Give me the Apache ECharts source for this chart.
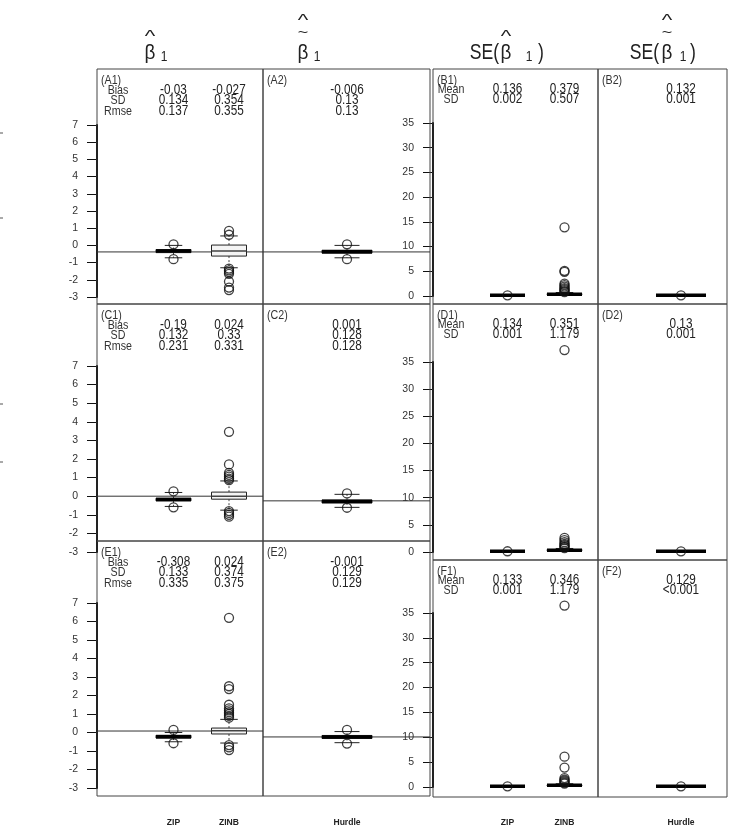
<!DOCTYPE html>
<html><head><meta charset="utf-8">
<script src="https://cdn.jsdelivr.net/npm/echarts@6/dist/echarts.min.js"></script>
<style>html,body{margin:0;padding:0;background:#fff}#c{width:735px;height:828px}</style>
</head><body><div id="c"></div>
<script>
// ================= DATA =================
const methods = ['ZIP', 'ZINB', 'Hurdle'];
const leftAxis = { min: -3, max: 7, interval: 1 };
const rightAxis = { min: 0, max: 35, interval: 5 };
const leftStatNames = ['Bias', 'SD', 'Rmse'];
const rightStatNames = ['Mean', 'SD'];

// boxplot summaries: [lower whisker, Q1, median, Q3, upper whisker]
const A1_zip = [-0.72, -0.42, -0.33, -0.24, 0.0];
const A1_zip_out = [0.06, -0.8];
const A1_zinb = [-1.3, -0.62, -0.32, 0.02, 0.55];
const A1_zinb_out = [0.85, 0.62, -1.35, -1.45, -1.55, -1.65, -2.1, -2.45, -2.6];
const A2_hurdle = [-0.72, -0.45, -0.37, -0.28, 0.0];
const A2_hurdle_out = [0.06, -0.8];

const C1_zip = [-0.55, -0.25, -0.18, -0.11, 0.2];
const C1_zip_out = [0.26, -0.6];
const C1_zinb = [-0.75, -0.16, 0.0, 0.22, 0.82];
const C1_zinb_out = [3.46, 1.71, 1.25, 1.15, 1.05, 0.95, 0.87, -0.8, -0.9, -1.0, -1.1];
const C2_hurdle = [-0.6, -0.36, -0.28, -0.2, 0.1];
const C2_hurdle_out = [0.15, -0.62];

const E1_zip = [-0.5, -0.3, -0.23, -0.15, 0.0];
const E1_zip_out = [0.14, -0.58];
const E1_zinb = [-0.57, -0.08, 0.1, 0.24, 0.71];
const E1_zinb_out = [6.2, 2.5, 2.35, 1.5, 1.3, 1.2, 1.1, 1.0, 0.9, 0.8, -0.68, -0.8, -0.95];
const E2_hurdle = [-0.55, -0.32, -0.24, -0.16, 0.05];
const E2_hurdle_out = [0.14, -0.6];

const B1_zip = [0.13, 0.134, 0.136, 0.138, 0.142];
const B1_zip_out = [0.136];
const B1_zinb = [0.1, 0.28, 0.36, 0.45, 0.7];
const B1_zinb_out = [0.8, 1.0, 1.2, 1.4, 1.6, 1.9, 2.2, 2.5, 4.9, 5.1, 13.9];
const B2_hurdle = [0.128, 0.131, 0.132, 0.133, 0.136];
const B2_hurdle_out = [0.132];

const D1_zip = [0.13, 0.133, 0.134, 0.135, 0.138];
const D1_zip_out = [0.134];
const D1_zinb = [0.1, 0.26, 0.34, 0.43, 0.65];
const D1_zinb_out = [0.7, 0.9, 1.1, 1.3, 1.5, 1.8, 2.2, 2.6, 37.2];
const D2_hurdle = [0.126, 0.129, 0.13, 0.131, 0.134];
const D2_hurdle_out = [0.13];

const F1_zip = [0.13, 0.132, 0.133, 0.134, 0.137];
const F1_zip_out = [0.133];
const F1_zinb = [0.1, 0.26, 0.34, 0.42, 0.65];
const F1_zinb_out = [0.7, 0.9, 1.1, 1.3, 1.5, 1.8, 3.9, 6.1, 36.5];
const F2_hurdle = [0.125, 0.128, 0.129, 0.13, 0.133];
const F2_hurdle_out = [0.129];

// reference (true value) lines
const refA1 = -0.38, refA2 = -0.38, refC1 = 0, refC2 = -0.25, refE1 = 0.08, refE2 = -0.24;

// panel summary statistics
const A1_stats = { ZIP: ['-0.03', '0.134', '0.137'], ZINB: ['-0.027', '0.354', '0.355'] };
const A2_stats = { Hurdle: ['-0.006', '0.13', '0.13'] };
const C1_stats = { ZIP: ['-0.19', '0.132', '0.231'], ZINB: ['0.024', '0.33', '0.331'] };
const C2_stats = { Hurdle: ['0.001', '0.128', '0.128'] };
const E1_stats = { ZIP: ['-0.308', '0.133', '0.335'], ZINB: ['0.024', '0.374', '0.375'] };
const E2_stats = { Hurdle: ['-0.001', '0.129', '0.129'] };
const B1_stats = { ZIP: ['0.136', '0.002'], ZINB: ['0.379', '0.507'] };
const B2_stats = { Hurdle: ['0.132', '0.001'] };
const D1_stats = { ZIP: ['0.134', '0.001'], ZINB: ['0.351', '1.179'] };
const D2_stats = { Hurdle: ['0.13', '0.001'] };
const F1_stats = { ZIP: ['0.133', '0.001'], ZINB: ['0.346', '1.179'] };
const F2_stats = { Hurdle: ['0.129', '<0.001'] };

// ================= LAYOUT =================
const COLS = { L1: [97, 263], L2: [263, 430], R1: [433, 598], R2: [598, 727] };
const ROWS_L = [[69, 304], [304, 541], [541, 796]];
const ROWS_R = [[69, 304], [304, 560], [560, 797]];
const AXIS_L = [[125, 297], [366, 552], [603, 788]];
const AXIS_R = [[123, 296], [362, 552], [613, 787]];
const SLOT_PX = { L1: { ZIP: 173.5, ZINB: 229 }, L2: { Hurdle: 347 }, R1: { ZIP: 507.5, ZINB: 564.5 }, R2: { Hurdle: 681 } };
const BOX_W = { ZIP: 35, ZINB: 35, Hurdle: 50 };
const EDGE_MARKS = [[1, 133], [1, 218], [1, 404], [1, 462]];
const FONT = '"Liberation Sans", Arial, sans-serif';

const panels = [
  { id: 'A1', col: 'L1', row: 0, boxes: [['ZIP', A1_zip, A1_zip_out], ['ZINB', A1_zinb, A1_zinb_out]], stats: A1_stats, ref: refA1 },
  { id: 'A2', col: 'L2', row: 0, boxes: [['Hurdle', A2_hurdle, A2_hurdle_out]], stats: A2_stats, ref: refA2 },
  { id: 'C1', col: 'L1', row: 1, boxes: [['ZIP', C1_zip, C1_zip_out], ['ZINB', C1_zinb, C1_zinb_out]], stats: C1_stats, ref: refC1 },
  { id: 'C2', col: 'L2', row: 1, boxes: [['Hurdle', C2_hurdle, C2_hurdle_out]], stats: C2_stats, ref: refC2 },
  { id: 'E1', col: 'L1', row: 2, boxes: [['ZIP', E1_zip, E1_zip_out], ['ZINB', E1_zinb, E1_zinb_out]], stats: E1_stats, ref: refE1 },
  { id: 'E2', col: 'L2', row: 2, boxes: [['Hurdle', E2_hurdle, E2_hurdle_out]], stats: E2_stats, ref: refE2 },
  { id: 'B1', col: 'R1', row: 0, boxes: [['ZIP', B1_zip, B1_zip_out], ['ZINB', B1_zinb, B1_zinb_out]], stats: B1_stats },
  { id: 'B2', col: 'R2', row: 0, boxes: [['Hurdle', B2_hurdle, B2_hurdle_out]], stats: B2_stats },
  { id: 'D1', col: 'R1', row: 1, boxes: [['ZIP', D1_zip, D1_zip_out], ['ZINB', D1_zinb, D1_zinb_out]], stats: D1_stats },
  { id: 'D2', col: 'R2', row: 1, boxes: [['Hurdle', D2_hurdle, D2_hurdle_out]], stats: D2_stats },
  { id: 'F1', col: 'R1', row: 2, boxes: [['ZIP', F1_zip, F1_zip_out], ['ZINB', F1_zinb, F1_zinb_out]], stats: F1_stats },
  { id: 'F2', col: 'R2', row: 2, boxes: [['Hurdle', F2_hurdle, F2_hurdle_out]], stats: F2_stats }
];

function T(text, x, y, o) {
  o = o || {};
  return { type: 'text', x: x, y: y, scaleX: o.sx != null ? o.sx : 0.82, z: 20,
    style: { text: text, x: 0, y: 0, font: o.font || ('13px ' + FONT), fill: o.fill || '#222',
      textAlign: o.align || 'center', textVerticalAlign: o.va || 'middle' } };
}

const grids = [], xAxes = [], yAxes = [], series = [], graphics = [];

panels.forEach((p, gi) => {
  const left = p.col[0] === 'L';
  const [x0, x1] = COLS[p.col];
  const [r0, r1] = (left ? ROWS_L : ROWS_R)[p.row];
  const [a0, a1] = (left ? AXIS_L : AXIS_R)[p.row];
  const ax = left ? leftAxis : rightAxis;
  const showY = p.col.endsWith('1');
  grids.push({ left: x0, top: a0, width: x1 - x0, height: a1 - a0 });
  xAxes.push({ type: 'value', gridIndex: gi, min: 0, max: 10, show: false });
  yAxes.push({ type: 'value', gridIndex: gi, min: ax.min, max: ax.max, interval: ax.interval, show: showY,
    axisLine: { show: true, lineStyle: { color: '#000', width: 2 } },
    axisTick: { show: true, length: 10, lineStyle: { color: '#111', width: 1 } },
    axisLabel: { color: '#333', fontSize: 10.5, margin: 19, fontFamily: FONT },
    splitLine: { show: false } });
  graphics.push({ type: 'rect', shape: { x: x0, y: r0, width: x1 - x0, height: r1 - r0 }, z: 1,
    style: { fill: 'none', stroke: '#444', lineWidth: 1 } });
  const slotX = m => (SLOT_PX[p.col][m] - x0) / (x1 - x0) * 10;
  if (p.ref != null) {
    series.push({ type: 'line', xAxisIndex: gi, yAxisIndex: gi, data: [[0, p.ref], [10, p.ref]], symbol: 'none',
      lineStyle: { color: '#333', width: 1 }, z: 2, silent: true });
  }
  p.boxes.forEach(([m, st, out]) => {
    const bw = BOX_W[m];
    const isZinb = m === 'ZINB';
    series.push({ type: 'custom', xAxisIndex: gi, yAxisIndex: gi, z: 4, silent: true,
      data: [[slotX(m)].concat(st)],
      renderItem: function (params, api) {
        const x = api.value(0);
        const c = i => api.coord([x, api.value(i)]);
        const lo = c(1), q1 = c(2), md = c(3), q3 = c(4), hi = c(5);
        const cx = lo[0], hw = bw / 2, cw = bw / 4;
        const sol = { stroke: '#222', lineWidth: 1 };
        const das = { stroke: '#444', lineWidth: 1, lineDash: [2, 2] };
        return { type: 'group', children: [
          { type: 'line', shape: { x1: cx, y1: q3[1], x2: cx, y2: hi[1] }, style: das },
          { type: 'line', shape: { x1: cx, y1: q1[1], x2: cx, y2: lo[1] }, style: das },
          { type: 'line', shape: { x1: cx - cw, y1: hi[1], x2: cx + cw, y2: hi[1] }, style: sol },
          { type: 'line', shape: { x1: cx - cw, y1: lo[1], x2: cx + cw, y2: lo[1] }, style: sol },
          { type: 'rect', shape: { x: cx - hw, y: q3[1], width: bw, height: q1[1] - q3[1] },
            style: { fill: isZinb ? '#f4f4f4' : '#fff', stroke: '#222', lineWidth: 1 } },
          { type: 'line', shape: { x1: cx - hw, y1: md[1], x2: cx + hw, y2: md[1] },
            style: { stroke: isZinb && left ? '#444' : '#000', lineWidth: isZinb && left ? 1.5 : 3.5 } }
        ] };
      } });
    series.push({ type: 'scatter', xAxisIndex: gi, yAxisIndex: gi, z: 5, silent: true, clip: false,
      data: out.map(v => [slotX(m), v]), symbol: 'circle', symbolSize: 9,
      itemStyle: { color: 'rgba(255,255,255,0)', borderColor: '#111', borderWidth: 1.3 } });
  });
  const lineY = left ? [r0 + 11, r0 + 21, r0 + 31.5, r0 + 42] : [r0 + 11, r0 + 20.5, r0 + 30.5];
  graphics.push(T('(' + p.id + ')', x0 + 4, lineY[0], { align: 'left', fill: '#333' }));
  if (showY) {
    (left ? leftStatNames : rightStatNames).forEach((n, k) => {
      graphics.push(T(n, left ? 118 : 451, lineY[k + 1], { fill: '#333' }));
    });
  }
  Object.keys(p.stats).forEach(m => {
    p.stats[m].forEach((v, k) => {
      graphics.push(T(v, SLOT_PX[p.col][m], lineY[k + 1], { font: '14px ' + FONT, sx: 0.84 }));
    });
  });
});

Object.keys(SLOT_PX).forEach(c => {
  Object.keys(SLOT_PX[c]).forEach(m => {
    graphics.push(T(m, SLOT_PX[c][m], 822, { font: 'bold 9.5px ' + FONT, sx: 0.9 }));
  });
});

EDGE_MARKS.forEach(([x, y]) => {
  graphics.push({ type: 'line', shape: { x1: x - 1, y1: y, x2: x + 2, y2: y }, style: { stroke: '#555', lineWidth: 1 }, z: 5 });
});

const TF = s => s + 'px ' + FONT;
graphics.push(T('β', 150, 53, { font: TF(21), sx: 0.9 }));
graphics.push(T('^', 150, 38, { font: TF(16), sx: 1.4 }));
graphics.push(T('1', 164, 57, { font: TF(15), sx: 0.8 }));

graphics.push(T('β', 303, 53, { font: TF(21), sx: 0.9 }));
graphics.push(T('~', 303, 33, { font: TF(15), sx: 1.2 }));
graphics.push(T('^', 303, 22, { font: TF(16), sx: 1.4 }));
graphics.push(T('1', 317, 57, { font: TF(15), sx: 0.8 }));

graphics.push(T('SE(', 499, 53, { font: TF(22), sx: 0.8, align: 'right' }));
graphics.push(T('β', 506, 53, { font: TF(21), sx: 0.9 }));
graphics.push(T('^', 506, 38, { font: TF(16), sx: 1.4 }));
graphics.push(T('1', 529, 57, { font: TF(15), sx: 0.8 }));
graphics.push(T(')', 541, 53, { font: TF(22), sx: 0.8 }));

graphics.push(T('SE(', 659, 53, { font: TF(22), sx: 0.8, align: 'right' }));
graphics.push(T('β', 667, 53, { font: TF(21), sx: 0.9 }));
graphics.push(T('~', 667, 33, { font: TF(15), sx: 1.2 }));
graphics.push(T('^', 667, 22, { font: TF(16), sx: 1.4 }));
graphics.push(T('1', 683, 57, { font: TF(15), sx: 0.8 }));
graphics.push(T(')', 693, 53, { font: TF(22), sx: 0.8 }));

const chart = echarts.init(document.getElementById('c'), null, { renderer: 'canvas' });
chart.setOption({
  animation: false,
  backgroundColor: '#fff',
  grid: grids, xAxis: xAxes, yAxis: yAxes, series: series,
  graphic: { elements: graphics }
});
</script></body></html>
